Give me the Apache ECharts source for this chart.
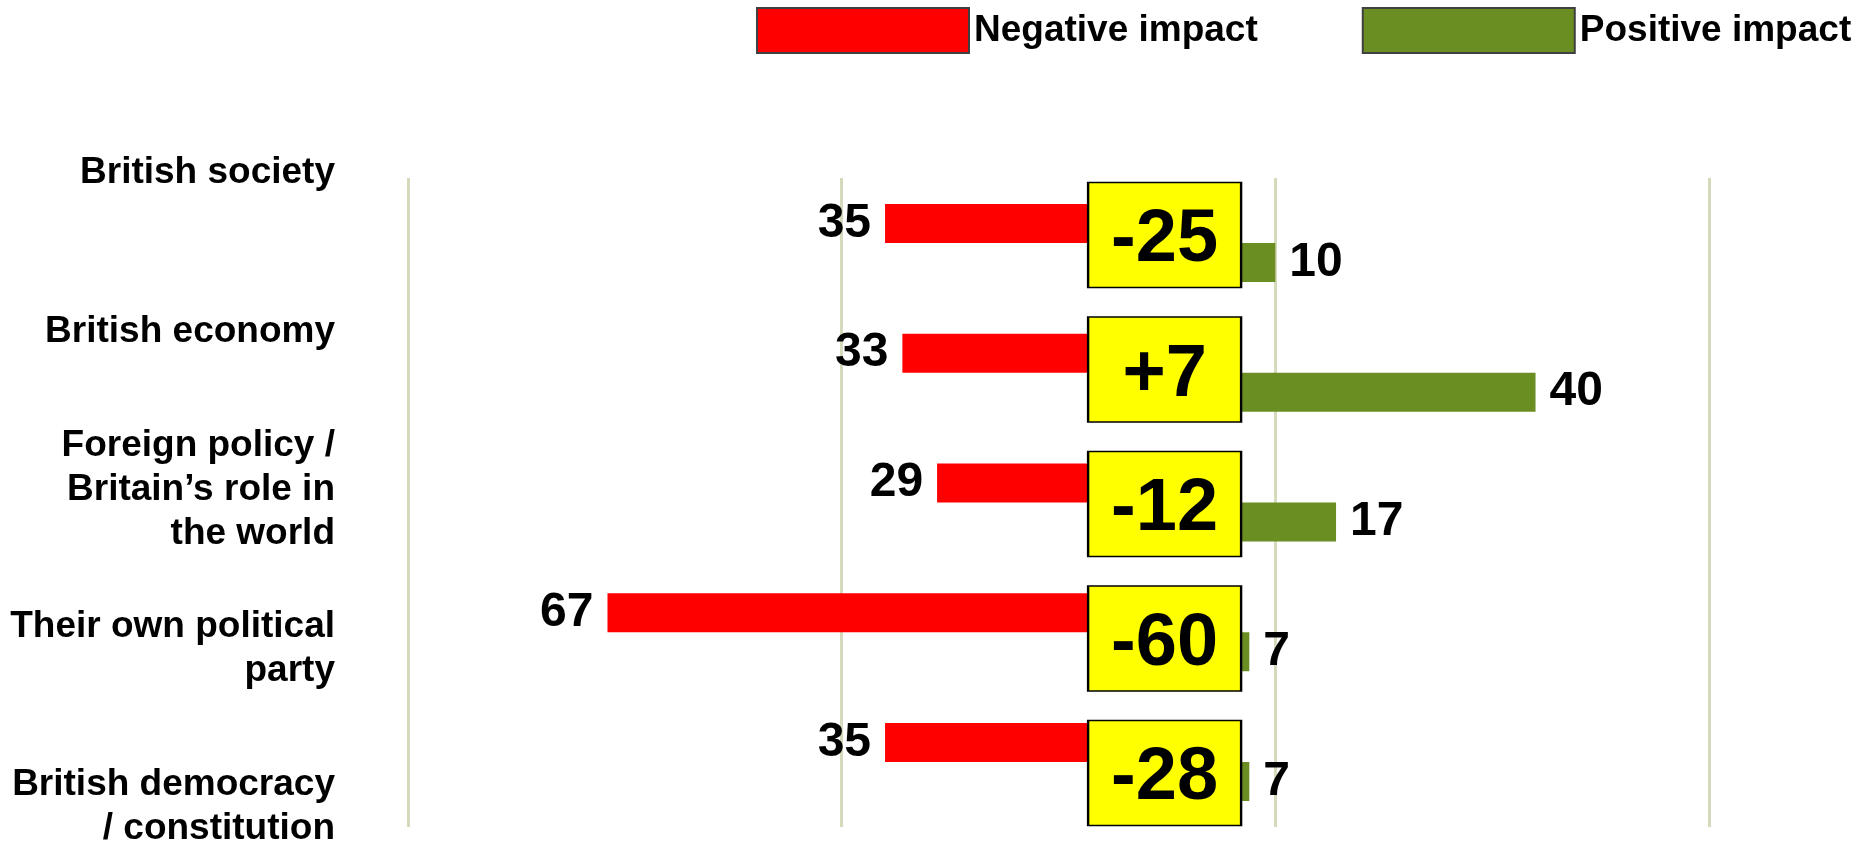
<!DOCTYPE html>
<html>
<head>
<meta charset="utf-8">
<script src="https://cdn.jsdelivr.net/npm/echarts@6/dist/echarts.min.js"></script>
<style>
  html, body { margin: 0; padding: 0; background: #ffffff; }
  #chart { width: 1869px; height: 851px; }
</style>
</head>
<body>
<div id="chart"></div>
<script>
// ---- data ----
const categories = [
  'British society',
  'British economy',
  'Foreign policy /\nBritain\u2019s role in\nthe world',
  'Their own political\nparty',
  'British democracy\n/ constitution'
];
const negativeImpact = [35, 33, 29, 67, 35];
const positiveImpact = [10, 40, 17, 7, 7];
const netLabels = ['-25', '+7', '-12', '-60', '-28'];
const seriesNames = ['Negative impact', 'Positive impact'];

// ---- chart ----
const FONT = '"Liberation Sans", Arial, sans-serif';
const chart = echarts.init(document.getElementById('chart'), null, { renderer: 'canvas' });

const hiddenAxisParts = {
  axisLine: { show: false },
  axisTick: { show: false },
  axisLabel: { show: false },
  splitLine: { show: false }
};

const option = {
  animation: false,
  backgroundColor: '#ffffff',
  legend: {
    data: seriesNames,
    left: 751,
    top: 2,
    itemWidth: 212,
    itemHeight: 45,
    itemGap: 104,
    icon: 'rect',
    itemStyle: { borderColor: '#404040', borderWidth: 2 },
    textStyle: { fontFamily: FONT, fontSize: 37, fontWeight: 'bold', color: '#000000' },
    selectedMode: false
  },
  grid: [
    { left: 408, right: 160, top: 178, bottom: 24 },
    { left: 408, right: 160, top: 173, bottom: 28 },
    { left: 408, right: 160, top: 235, bottom: 78 }
  ],
  xAxis: [
    {
      gridIndex: 0, type: 'value', min: -90, max: 60, interval: 50,
      axisLine: { show: false }, axisTick: { show: false }, axisLabel: { show: false },
      splitLine: { show: true, lineStyle: { color: '#d4dabb', width: 3 } }
    },
    Object.assign({ gridIndex: 1, type: 'value', min: 0, max: 1, show: false }, hiddenAxisParts),
    Object.assign({ gridIndex: 2, type: 'value', min: -90, max: 60, show: false }, hiddenAxisParts)
  ],
  yAxis: [
    Object.assign({ gridIndex: 0, type: 'category', data: categories, inverse: true }, hiddenAxisParts),
    {
      gridIndex: 1, type: 'category', data: categories, inverse: true, boundaryGap: false,
      axisLine: { show: false }, axisTick: { show: false }, splitLine: { show: false },
      axisLabel: {
        show: true, interval: 0, margin: 73, align: 'right',
        fontFamily: FONT, fontSize: 37, fontWeight: 'bold', color: '#000000', lineHeight: 44
      }
    },
    Object.assign({ gridIndex: 2, type: 'category', data: categories, inverse: true, boundaryGap: false, show: false }, hiddenAxisParts)
  ],
  series: [
    {
      name: seriesNames[0], type: 'bar', xAxisIndex: 0, yAxisIndex: 0,
      data: negativeImpact.map(v => -v),
      barWidth: 39, barGap: '0%',
      itemStyle: { color: '#ff0000' },
      label: {
        show: true, position: 'left', distance: 14,
        formatter: p => String(Math.abs(p.value)),
        fontFamily: FONT, fontSize: 48, fontWeight: 'bold', color: '#000000'
      }
    },
    {
      name: seriesNames[1], type: 'bar', xAxisIndex: 0, yAxisIndex: 0,
      data: positiveImpact,
      barWidth: 39, barGap: '0%',
      itemStyle: { color: '#6b8e23' },
      label: {
        show: true, position: 'right', distance: 14,
        fontFamily: FONT, fontSize: 48, fontWeight: 'bold', color: '#000000'
      }
    },
    {
      name: 'Net', type: 'scatter', xAxisIndex: 2, yAxisIndex: 2, z: 5,
      data: categories.map((c, i) => [0, i]),
      symbol: 'rect', symbolSize: [153, 105], symbolOffset: [-24, 0],
      itemStyle: { color: '#ffff00', borderColor: '#000000', borderWidth: 2, opacity: 1 },
      label: {
        show: true, position: 'inside', offset: [0, 6],
        formatter: p => netLabels[p.dataIndex],
        fontFamily: FONT, fontSize: 74, fontWeight: 'bold', color: '#000000'
      },
      emphasis: { disabled: true }
    }
  ]
};
chart.setOption(option);
</script>
</body>
</html>
